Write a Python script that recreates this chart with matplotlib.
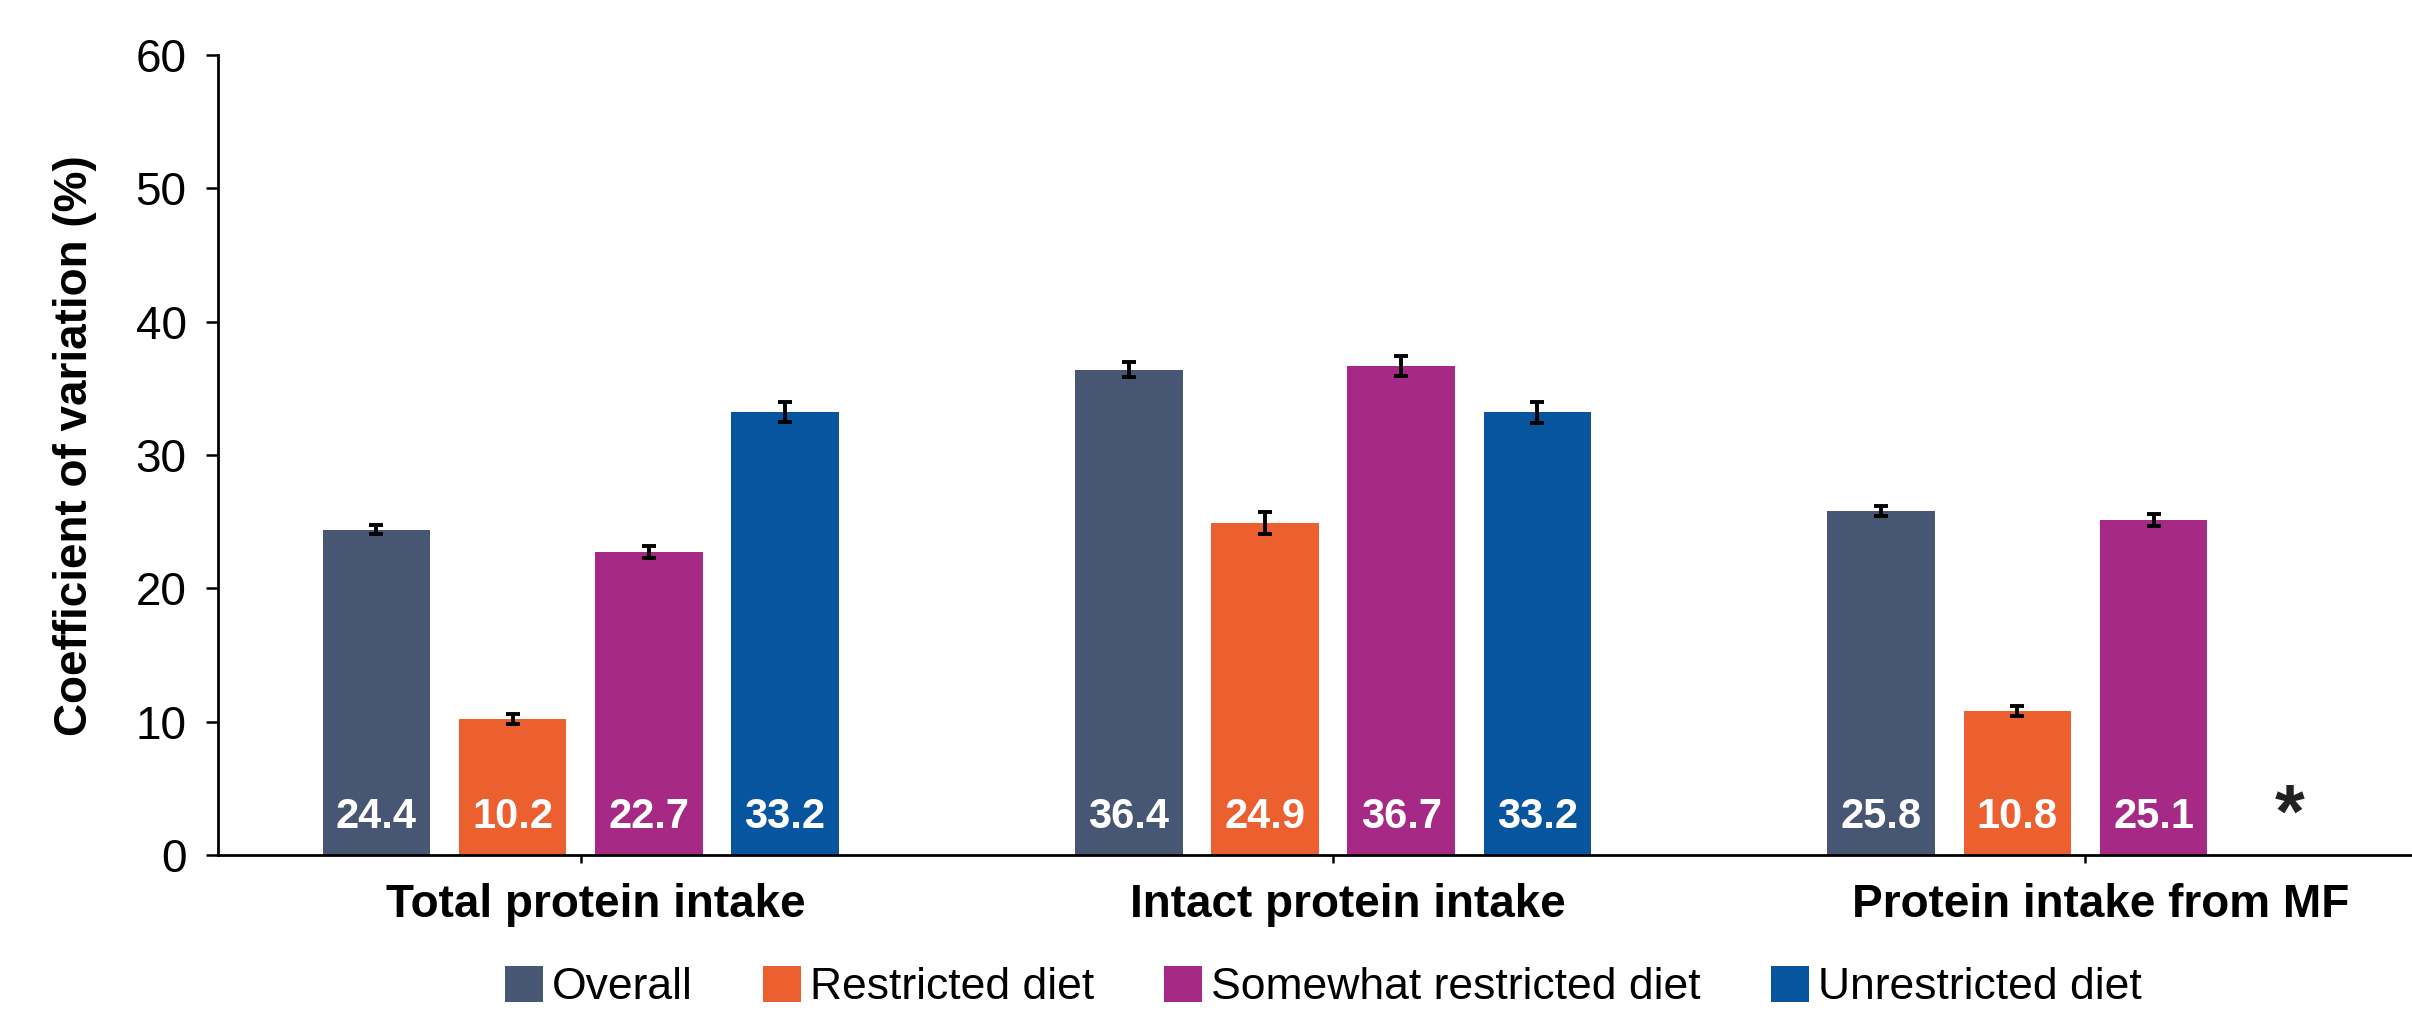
import numpy as np
import matplotlib
matplotlib.use("Agg")
import matplotlib.pyplot as plt
import matplotlib.transforms as mtransforms

plt.rcParams['font.family'] = ['Liberation Sans', 'DejaVu Sans']

categories = ['Total protein intake', 'Intact protein intake', 'Protein intake from MF']
groups = ['Overall', 'Restricted diet', 'Somewhat restricted diet', 'Unrestricted diet']
overall = [24.4, 36.4, 25.8]
restricted = [10.2, 24.9, 10.8]
somewhat = [22.7, 36.7, 25.1]
unrestricted = [33.2, 33.2, np.nan]   # no MF intake in this group
overall_err = [0.35, 0.55, 0.4]
restricted_err = [0.35, 0.8, 0.4]
somewhat_err = [0.45, 0.75, 0.45]
unrestricted_err = [0.75, 0.8, np.nan]
yticks = [0, 10, 20, 30, 40, 50, 60]

colors = ['#475672', '#EB602E', '#A62A85', '#07559F']
series = [overall, restricted, somewhat, unrestricted]
errors = [overall_err, restricted_err, somewhat_err, unrestricted_err]

fig = plt.figure(figsize=(24.12, 10.15), dpi=100)
ax = fig.add_axes([218/2412, 1-855/1015, 1-218/2412, (855-55)/1015])

x = np.arange(len(categories))
step = 0.181
width = 0.143

for i, (vals, errs, col, name) in enumerate(zip(series, errors, colors, groups)):
    pos = x + (i - 1.5) * step
    ax.bar(pos, vals, width, color=col, label=name, zorder=2)
    ax.errorbar(pos, vals, yerr=errs, fmt='none', ecolor='black',
                elinewidth=2.8, capsize=4.8, capthick=2.8, zorder=3)
    for p, v in zip(pos, vals):
        if np.isnan(v):
            ax.text(p, 1.4, '*', ha='center', va='baseline', fontsize=55,
                    fontweight='bold', color='#222222')
        else:
            ax.text(p, 2.0, f'{v:.1f}', ha='center', va='baseline', fontsize=30,
                    fontweight='bold', color='white', zorder=4)

ax.set_xlim(-0.482, 2.434)
ax.set_ylim(0, 60)
ax.set_yticks(yticks)
ax.set_xticks(x)
ax.set_xticklabels(categories, fontsize=33, fontweight='bold')
ax.tick_params(axis='y', labelsize=33, length=8.6, width=1.8, pad=14)
ax.tick_params(axis='x', length=6, width=1.8, pad=14)
shift = mtransforms.ScaledTranslation(0.15, 0, fig.dpi_scale_trans)
for lab in ax.get_xticklabels():
    lab.set_transform(lab.get_transform() + shift)

for s in ['top', 'right']:
    ax.spines[s].set_visible(False)
for s in ['left', 'bottom']:
    ax.spines[s].set_linewidth(2.0)

ax.set_ylabel('Coefficient of variation (%)', fontsize=33, fontweight='bold')
ax.yaxis.set_label_coords((97-218)/2194, 0.512)

fig.legend(loc='center', bbox_to_anchor=(0.5486, 1-987/1015), ncol=4, frameon=False,
           fontsize=32, handlelength=0.86, handleheight=0.86, handletextpad=0.2,
           columnspacing=1.57, borderaxespad=0)

fig.savefig('out.png', dpi=100)
